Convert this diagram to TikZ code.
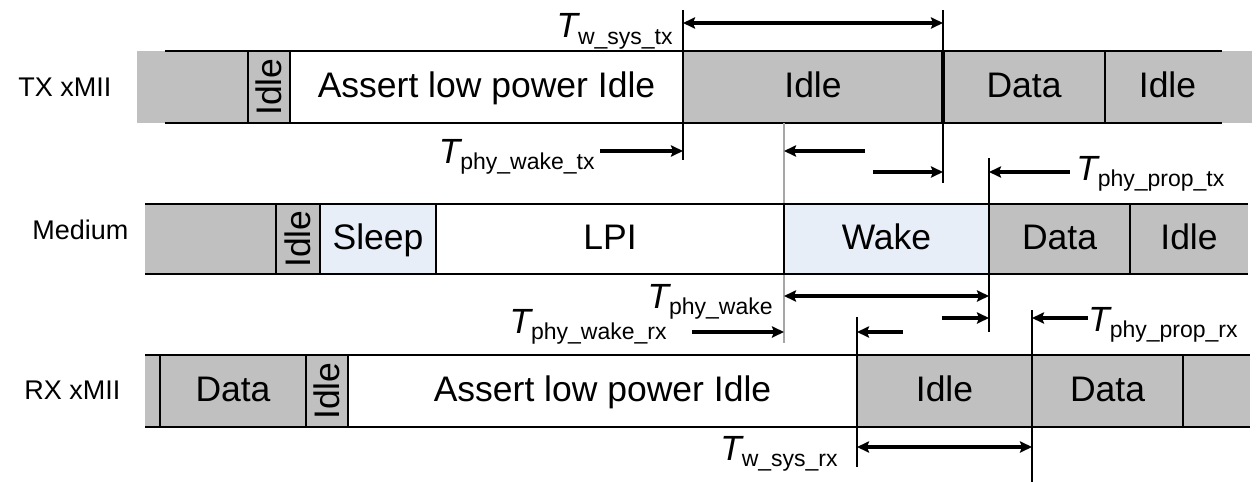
\documentclass[tikz,border=0pt]{standalone}
\usepackage{fontspec}
\setmainfont{Liberation Sans}
\usetikzlibrary{arrows.meta}
\definecolor{grayfill}{RGB}{192,192,192}
\definecolor{bluefill}{RGB}{231,238,248}
\definecolor{markgray}{RGB}{166,166,166}
\newcommand\seg[7]{\node[segbox,#6,minimum width={0.5pt*(#3-#2)},minimum height={0.5pt*(#5-#4)}] (#1) at ({(#2+#3)/2},{(#4+#5)/2}) {#7};}
\newcommand\Tlab[1]{\fontsize{17.5}{17.5}\selectfont\itshape T\upshape\raisebox{-3pt}{\fontsize{11.5}{12}\selectfont #1}}
\tikzset{
  segbox/.style={rectangle,inner sep=0pt,outer sep=0pt,draw=none,text height=12.9pt,text depth=2pt,font=\fontsize{17.75}{18}\selectfont},
  rotlab/.style={rotate=90,inner sep=0pt,font=\fontsize{17.75}{18}\selectfont},
  rowline/.style={line width=1pt,black},
  rowlab/.style={anchor=west,inner sep=0pt,font=\fontsize{13.5}{14}\selectfont},
  marker/.style={line width=0.8pt,black},
  graymarker/.style={line width=1.3pt,markgray},
  tip/.tip={Stealth[length=6pt,width=5.6pt,inset=1pt]},
  dimarr/.style={line width=1.6pt,-tip},
  dimboth/.style={line width=1.6pt,tip-tip},
  tlab/.style={inner sep=0pt}
}
\begin{document}
\begin{tikzpicture}[x=0.5pt,y=-0.5pt]
\useasboundingbox (0,0) rectangle (1260,482);
% ---------- TX row ----------
\fill[grayfill] (137,51) rectangle (1252,123);
\seg{txg}{137}{248}{51}{123}{}{}
\seg{txi}{248}{290}{51}{123}{}{}
\seg{txa}{290}{683}{51}{123}{fill=white}{Assert low power Idle}
\seg{txidle}{683}{943}{51}{123}{}{Idle}
\seg{txdata}{943}{1105}{51}{123}{}{Data}
\seg{txidle2}{1105}{1230}{51}{123}{}{Idle}
\node[rotlab] (txil) at (txi.center) {Idle};
\coordinate (txtl) at (165,51); \coordinate (txtr) at (1222,51);
\coordinate (txbl) at (165,123); \coordinate (txbr) at (1222,123);
\draw[rowline] (txtl) -- (txtr);
\draw[rowline] (txbl) -- (txbr);
\foreach \n in {txi,txa,txidle,txidle2}{\draw[rowline] (\n.north west) -- (\n.south west);}
\draw[rowline,line width=1.6pt] (txdata.north west) -- (txdata.south west);
% ---------- Medium row ----------
\fill[grayfill] (145,204) rectangle (1248,274);
\seg{mg}{145}{276}{204}{274}{}{}
\seg{mi}{276}{320}{204}{274}{}{}
\seg{ms}{320}{436}{204}{274}{fill=bluefill}{Sleep}
\seg{ml}{436}{784}{204}{274}{fill=white}{LPI}
\seg{mw}{784}{989}{204}{274}{fill=bluefill}{Wake}
\seg{md}{989}{1130}{204}{274}{}{Data}
\seg{mi2}{1130}{1248}{204}{274}{}{Idle}
\node[rotlab] (mil) at (mi.center) {Idle};
% gray marker behind medium divider
\coordinate (gtop) at (784,123); \coordinate (gbot) at (784,343);
\draw[graymarker] (gtop) -- (gbot);
\draw[rowline] (mg.north west) -- (mi2.north east);
\draw[rowline] (mg.south west) -- (mi2.south east);
\foreach \n in {mi,ms,ml,mw,md,mi2}{\draw[rowline] (\n.north west) -- (\n.south west);}
% ---------- RX row ----------
\fill[grayfill] (145,355) rectangle (1250,427);
\seg{rg}{145}{160}{355}{427}{}{}
\seg{rd}{160}{306}{355}{427}{}{Data}
\seg{ri}{306}{348}{355}{427}{}{}
\seg{ra}{348}{857}{355}{427}{fill=white}{Assert low power Idle}
\seg{ri2}{857}{1032}{355}{427}{}{Idle}
\seg{rd2}{1032}{1183}{355}{427}{}{Data}
\seg{rg2}{1183}{1250}{355}{427}{}{}
\node[rotlab] (ril) at (ri.center) {Idle};
\draw[rowline] (rg.north west) -- (rg2.north east);
\draw[rowline] (rg.south west) -- (rg2.south east);
\foreach \n in {rd,ri,ra,ri2,rd2,rg2}{\draw[rowline] (\n.north west) -- (\n.south west);}
% ---------- row labels ----------
\node[rowlab] (ltx) at (18,87) {TX xMII};
\node[rowlab] (lmed) at (32,230) {Medium};
\node[rowlab] (lrx) at (24,390) {RX xMII};
% ---------- marker lines ----------
\coordinate (a1t) at (683,10);  \coordinate (a1b) at (683,160);
\coordinate (a2t) at (943,10);  \coordinate (a2b) at (943,183);
\coordinate (a3t) at (989,158); \coordinate (a3b) at (989,332);
\coordinate (a4t) at (857,317); \coordinate (a4b) at (857,467);
\coordinate (a5t) at (1032,310);\coordinate (a5b) at (1032,482);
\draw[marker] (a1t) -- (a1b);
\draw[marker] (a2t) -- (a2b);
\draw[marker] (a3t) -- (a3b);
\draw[marker] (a4t) -- (a4b);
\draw[marker] (a5t) -- (a5b);
% ---------- dimension arrows ----------
\coordinate (wtxa) at (683,23); \coordinate (wtxb) at (943,23);
\draw[dimboth] (wtxa) -- (wtxb);
\coordinate (pwt1) at (600,151); \coordinate (pwt2) at (683,151);
\draw[dimarr] (pwt1) -- (pwt2);
\coordinate (g1a) at (865,151); \coordinate (g1b) at (784,151);
\draw[dimarr] (g1a) -- (g1b);
\coordinate (g2a) at (873,172); \coordinate (g2b) at (943,172);
\draw[dimarr] (g2a) -- (g2b);
\coordinate (ptx1) at (1070,172); \coordinate (ptx2) at (989,172);
\draw[dimarr] (ptx1) -- (ptx2);
\coordinate (pwa) at (784,296); \coordinate (pwb) at (989,296);
\draw[dimboth] (pwa) -- (pwb);
\coordinate (h1a) at (942,318); \coordinate (h1b) at (989,318);
\draw[dimarr] (h1a) -- (h1b);
\coordinate (pwr1) at (692,332); \coordinate (pwr2) at (784,332);
\draw[dimarr] (pwr1) -- (pwr2);
\coordinate (h2a) at (903,332); \coordinate (h2b) at (857,332);
\draw[dimarr] (h2a) -- (h2b);
\coordinate (prx1) at (1088,318); \coordinate (prx2) at (1032,318);
\draw[dimarr] (prx1) -- (prx2);
\coordinate (wrxa) at (857,447); \coordinate (wrxb) at (1032,447);
\draw[dimboth] (wrxa) -- (wrxb);
% ---------- timing labels ----------
\node[tlab,anchor=base east] (lwtx) at (673,38) {\Tlab{w\_sys\_tx}};
\node[tlab,anchor=base east] (lpwt) at (595,163) {\Tlab{phy\_wake\_tx}};
\node[tlab,anchor=base west] (lptx) at (1076,180) {\Tlab{phy\_prop\_tx}};
\node[tlab,anchor=base east] (lpw) at (773,308) {\Tlab{phy\_wake}};
\node[tlab,anchor=base east] (lpwr) at (667,333) {\Tlab{phy\_wake\_rx}};
\node[tlab,anchor=base west] (lprx) at (1088,331) {\Tlab{phy\_prop\_rx}};
\node[tlab,anchor=base east] (lwrx) at (838,460) {\Tlab{w\_sys\_rx}};
\end{tikzpicture}
\end{document}
